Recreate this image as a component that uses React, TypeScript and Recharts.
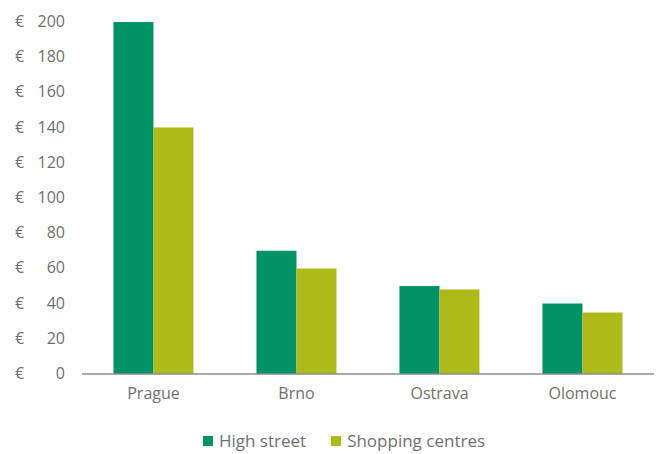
import React from 'react';
import { BarChart, Bar, XAxis, YAxis, Legend } from 'recharts';

const cities = ['Prague', 'Brno', 'Ostrava', 'Olomouc'];
const highStreet = [200, 70, 50, 40];
const shoppingCentres = [140, 60, 48, 35];
const yTicks = [0, 20, 40, 60, 80, 100, 120, 140, 160, 180, 200];

const data = cities.map((name, i) => ({
  name,
  'High street': highStreet[i],
  'Shopping centres': shoppingCentres[i],
}));

const font = '"Open Sans", Roboto, sans-serif';
const grey = '#6f6f6f';

const EuroTick = (props: any) => {
  const { y, payload } = props;
  return (
    <g>
      <text x={15} y={y} dy={5} fill={grey} fontSize={16} fontFamily={font}>€</text>
      <text x={65} y={y} dy={5} fill={grey} fontSize={16} fontFamily={font} textAnchor="end">
        {payload.value}
      </text>
    </g>
  );
};

const renderLegend = () => (
  <div style={{ display: 'flex', justifyContent: 'center', gap: 25, paddingLeft: 34, fontFamily: font, fontSize: 17, color: grey }}>
    {[
      ['High street', '#009164'],
      ['Shopping centres', '#aeb91a'],
    ].map(([label, color]) => (
      <span key={label} style={{ display: 'flex', alignItems: 'center' }}>
        <span style={{ width: 10, height: 10, background: color, display: 'inline-block', marginRight: 6 }} />
        {label}
      </span>
    ))}
  </div>
);

export default function App() {
  return (
    <div style={{ position: 'absolute', left: 0, top: 0, background: '#fff' }}>
      <BarChart
        width={658}
        height={454}
        data={data}
        margin={{ top: 22, right: 4, bottom: 27, left: 0 }}
        barCategoryGap="22%"
        barGap={0}
      >
        <XAxis
          dataKey="name"
          tickLine={false}
          axisLine={{ stroke: '#8c8c8c', strokeWidth: 1.5 }}
          tick={{ fill: grey, fontSize: 16, fontFamily: font }}
          tickMargin={8}
        />
        <YAxis
          width={82}
          domain={[0, 200]}
          ticks={yTicks}
          axisLine={false}
          tickLine={false}
          tick={<EuroTick />}
        />
        <Legend content={renderLegend} wrapperStyle={{ bottom: 2 }} />
        <Bar dataKey="High street" fill="#009164" isAnimationActive={false} />
        <Bar dataKey="Shopping centres" fill="#aeb91a" isAnimationActive={false} />
      </BarChart>
    </div>
  );
}
